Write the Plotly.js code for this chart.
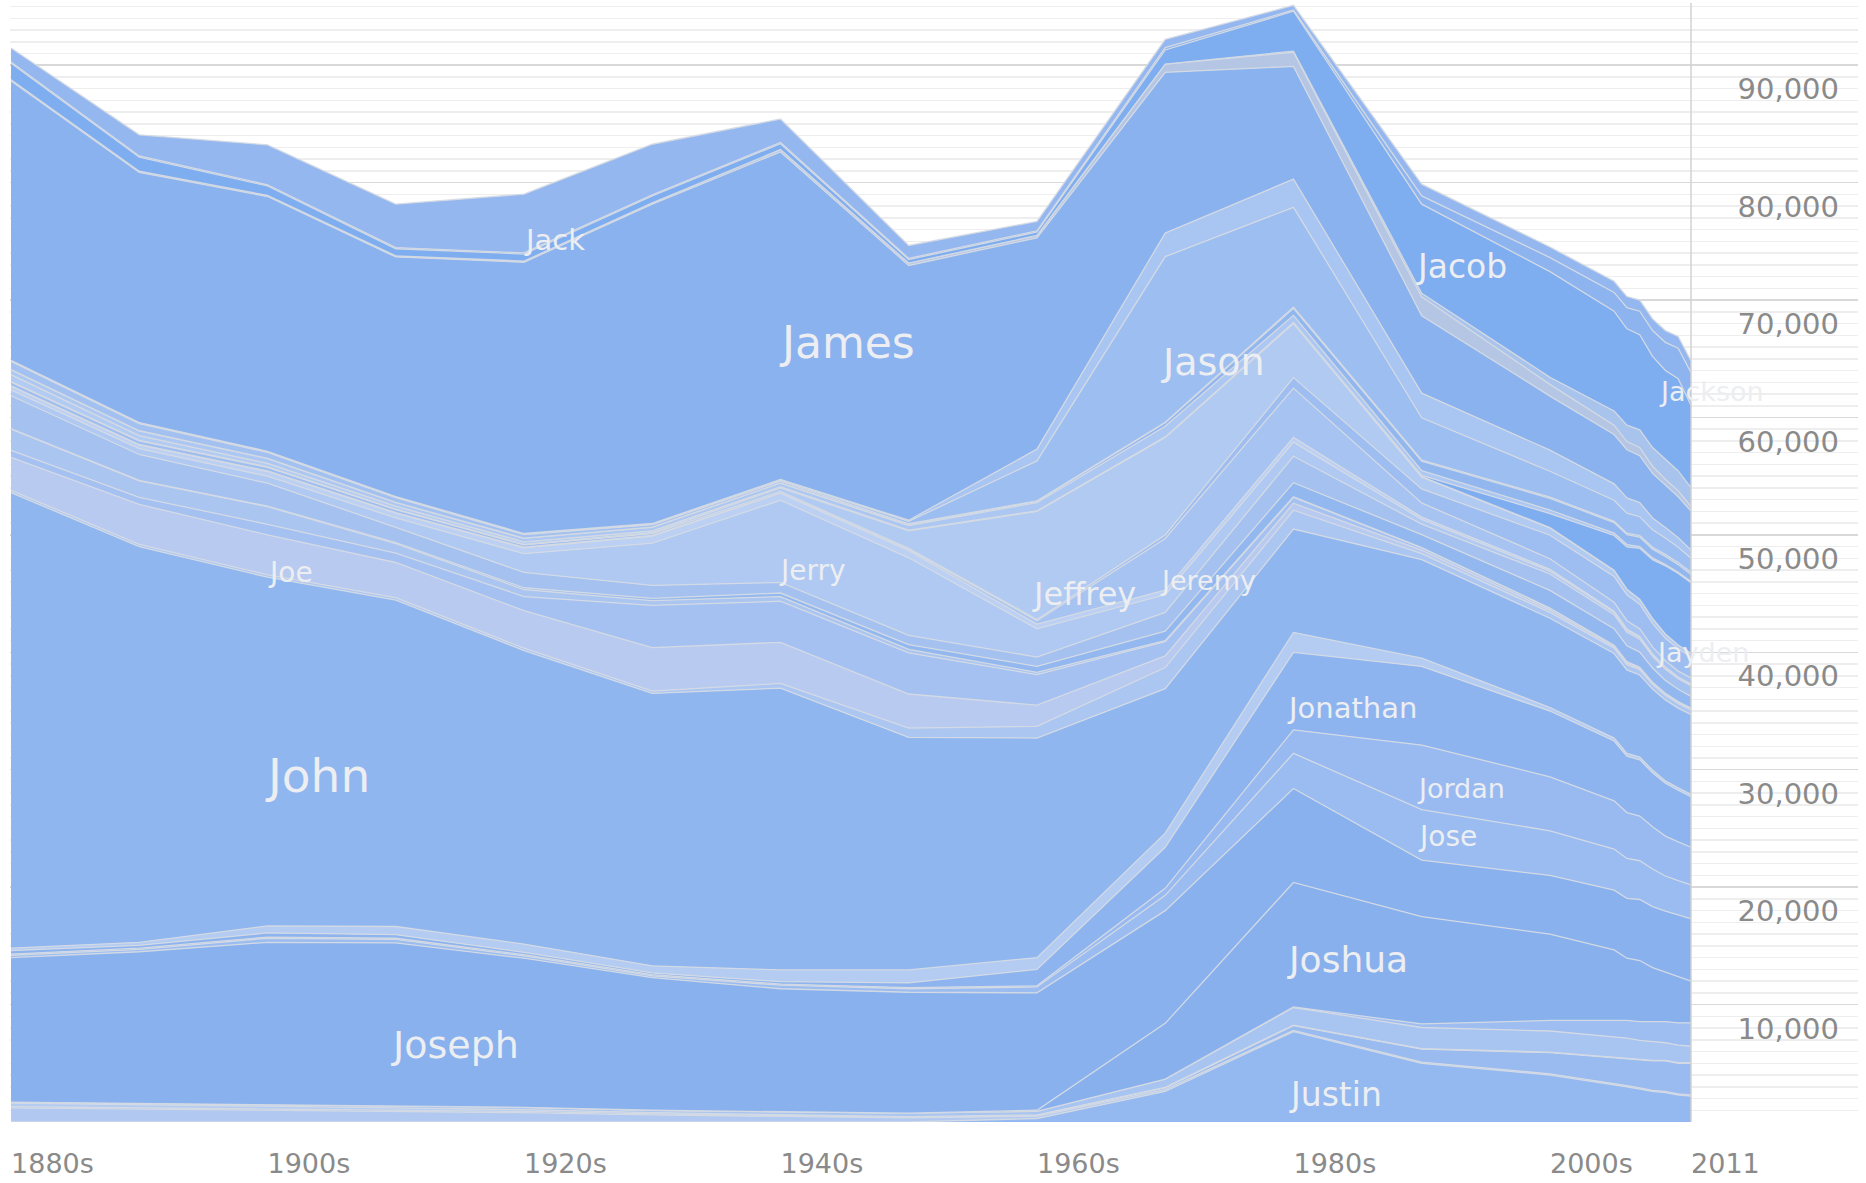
<!DOCTYPE html>
<html>
<head>
<meta charset="utf-8">
<script src="https://cdn.plot.ly/plotly-3.0.1.min.js"></script>
<style>
html,body{margin:0;padding:0;background:#fff;}
#chart{width:1866px;height:1183px;}
</style>
</head>
<body>
<div id="chart"></div>
<script>
// ---------------- DATA ----------------
const years = [1880,1890,1900,1910,1920,1930,1940,1950,1960,1970,1980,1990,2000,2005,2006,2007,2008,2009,2010,2011];

const Jack      = [1200,1800,3400,3700,5000,4300,2000,1100,800,700,400,1000,900,950,950,950,1000,1000,1000,1000];
const Jackson   = [100,100,100,100,100,100,100,100,100,200,100,700,1200,1600,1800,2000,2200,2400,2600,2800];
const Jacob     = [1400,1200,800,600,600,600,500,300,300,1200,3400,7600,9000,8500,8200,8100,7760,7560,7850,7000];
const Jaden     = [0,0,0,0,0,0,0,0,0,0,100,300,600,1200,1400,1500,1600,1700,1700,1600];
const Jake      = [100,100,100,100,100,100,200,200,200,700,1200,1600,1000,800,700,700,600,500,500,400];
const James     = [23800,21300,21700,20400,23100,27200,27900,21700,18000,13700,9600,6600,4600,4200,4100,4000,3800,3600,3500,3300];
const Jared     = [50,50,50,50,50,50,50,100,1000,2000,2400,2100,1800,1400,1300,1200,1000,900,800,700];
const Jason     = [50,50,50,50,50,50,100,200,3400,14100,8500,3600,2200,1800,1700,1600,1500,1400,1300,1200];
const Jasper    = [700,600,500,400,300,200,150,100,50,50,100,100,100,100,120,140,150,170,180,200];
const Javier    = [20,20,20,20,20,20,20,50,100,300,600,800,1000,900,850,800,750,700,650,600];
const Jay       = [400,400,400,300,300,300,300,400,700,900,600,400,300,200,200,150,150,100,100,100];
const Jayden    = [0,0,0,0,0,0,0,0,0,0,50,100,1200,2950,3600,4330,5000,5800,6100,6000];
const Jefferson = [600,400,300,250,200,150,100,50,50,50,50,50,50,40,40,30,30,30,20,20];
const Jeffrey   = [50,50,50,50,50,100,300,1500,9200,8300,4600,1000,600,500,450,400,400,350,300,300];
const Jeremiah  = [300,300,300,250,200,150,100,100,100,300,900,1200,2000,2200,2200,2100,2000,1900,1900,1800];
const Jeremy    = [50,50,50,50,50,50,50,100,300,4400,4200,1200,900,750,700,650,600,550,500,500];
const Jerome    = [300,300,400,400,500,600,600,600,400,400,400,200,150,100,100,80,70,60,50,50];
const Jerry     = [500,500,600,800,1600,3600,7000,6600,2400,1500,1200,400,250,200,180,150,130,120,100,100];
const Jesse     = [2800,2200,1950,1300,1300,1100,900,800,800,1600,2250,900,1400,1200,1150,1100,1000,950,900,900];
const Jesus     = [50,50,50,100,150,200,300,400,500,800,1200,1100,1500,1400,1350,1300,1200,1100,1050,1000];
const Jim       = [1800,1400,1500,800,600,400,400,300,200,100,50,20,20,10,10,0,0,0,0,0];
const Jimmy     = [600,600,900,800,1200,3600,3500,3500,2600,1200,500,200,150,100,100,80,70,60,50,50];
const Joe       = [2800,3400,3400,3000,3200,3700,3500,2900,1800,1000,600,300,200,150,150,120,120,100,100,100];
const Joel      = [200,200,200,200,200,200,400,800,1000,1800,1600,500,500,450,450,450,400,400,400,400];
const John      = [38800,33700,29700,27800,25000,23200,24000,19800,18700,12300,8800,8400,7600,7200,7100,7000,6900,6900,6800,6800];
const Johnny    = [200,250,600,700,700,600,1000,1100,1000,1200,1700,700,300,250,250,220,220,200,200,200];
const Jonathan  = [300,250,350,300,200,150,200,400,1400,3500,6600,6700,5600,5100,4800,4800,4600,4500,4400,4300];
const Jordan    = [100,100,100,100,100,100,100,100,100,600,2000,5500,4600,4100,3900,3800,3600,3400,3300,3200];
const Jose      = [200,200,350,300,200,150,300,300,500,1300,3000,4300,3800,3500,3400,3300,3200,3000,2900,2900];
const Joseph    = [12300,12900,13800,13900,12700,11300,10500,10300,10000,9600,8000,4800,5000,5100,5100,5200,5200,5200,5300,5300];
const Joshua    = [0,0,0,0,0,0,0,0,100,4750,10600,9150,7350,6000,5300,5200,4600,4200,3900,3550];
const Josiah    = [0,0,0,0,0,0,0,0,0,0,50,300,900,1400,1500,1600,1700,1800,1900,2000];
const Juan      = [100,100,150,150,200,200,200,300,300,700,1500,1800,1800,1700,1700,1600,1600,1500,1500,1400];
const Jules     = [300,300,250,200,150,100,100,50,50,50,50,50,50,50,50,50,50,50,50,50];
const Julian    = [100,100,100,100,100,100,50,50,50,150,400,1100,1800,2200,2300,2400,2500,2600,2600,2700];
const Julius    = [1200,1100,1000,900,800,600,500,350,200,150,100,100,100,100,100,100,100,100,100,100];
const Justin    = [0,0,0,0,0,0,0,0,300,2600,7700,5000,4000,3200,3000,2800,2600,2500,2300,2200];

// x-axis tick labels
const xTickYears = [1880,1900,1920,1940,1960,1980,2000,2011];
const xTickText  = ['1880s','1900s','1920s','1940s','1960s','1980s','2000s','2011'];
// y-axis ticks
const yTickVals = [0,10000,20000,30000,40000,50000,60000,70000,80000,90000];
const yTickText = ['','10,000','20,000','30,000','40,000','50,000','60,000','70,000','80,000','90,000'];

// ---------------- BUILD ----------------
const seriesValues = {Justin,Julius,Julian,Jules,Juan,Josiah,Joshua,Joseph,Jose,Jordan,Jonathan,Johnny,John,Joel,Joe,Jimmy,Jim,Jesus,Jesse,Jerry,Jerome,Jeremy,Jeremiah,Jeffrey,Jefferson,Jayden,Jay,Javier,Jasper,Jason,Jared,James,Jake,Jaden,Jacob,Jackson,Jack};
const stackOrder = Object.keys(seriesValues); // bottom to top

const colors = {
  Jack:'#94b7ef', Jackson:'#8db4ee', Jacob:'#7eadf0', Jaden:'#a8c3ec', Jake:'#b5c6e4',
  James:'#8ab2ee', Jared:'#a9c5f1', Jason:'#9dbef0', Jasper:'#a3c1f0', Javier:'#92b7ef',
  Jay:'#acc7f2', Jayden:'#7eadf0', Jefferson:'#b2cbf2', Jeffrey:'#b0caf2', Jeremiah:'#9ebdf0',
  Jeremy:'#a7c3f1', Jerome:'#bbd0f3', Jerry:'#afc9f2', Jesse:'#a4c1f0', Jesus:'#93b8ef',
  Jim:'#abc5f1', Jimmy:'#a4c1f1', Joe:'#b8caf0', Joel:'#acc6f2', John:'#8fb6ef',
  Johnny:'#b4ccf2', Jonathan:'#8db4ef', Jordan:'#98baf0', Jose:'#9abcf0', Joseph:'#89b1ed',
  Joshua:'#88b0ed', Josiah:'#9ebdf0', Juan:'#a8c4f1', Jules:'#b4ccf2', Julian:'#99bbf0',
  Julius:'#b1c9f0', Justin:'#94b8f0'
};

const traces = stackOrder.map(name => ({
  type: 'scatter',
  mode: 'lines',
  name: name,
  x: years,
  y: seriesValues[name],
  stackgroup: 'names',
  fillcolor: colors[name],
  line: {color: 'rgba(212,218,228,0.95)', width: 1.3, shape: 'linear'},
  hoverinfo: 'skip'
}));

const FONT = 'DejaVu Sans, Verdana, sans-serif';
const labelSpecs = [
  ['Jack', 1922.4, 75100, 29],
  ['James', 1945.2, 66400, 44],
  ['Jason', 1973.7, 64700, 38],
  ['Jacob', 1993.1, 72900, 33],
  ['Jackson', 2012.6, 62200, 27],
  ['Joe', 1901.8, 46800, 28],
  ['Jerry', 1942.5, 47000, 28],
  ['Jeffrey', 1963.7, 45000, 32],
  ['Jeremy', 1973.3, 46100, 27],
  ['John', 1903.9, 29500, 47],
  ['Jonathan', 1984.6, 35300, 29],
  ['Jordan', 1993.1, 28400, 27],
  ['Jose', 1992.0, 24300, 28],
  ['Jayden', 2011.9, 40000, 27],
  ['Joseph', 1914.6, 6600, 38],
  ['Joshua', 1984.2, 13800, 36],
  ['Justin', 1983.3, 2300, 33]
];
const annotations = labelSpecs.map(([t, x, y, s]) => ({
  x: x, y: y, xref: 'x', yref: 'y', text: t, showarrow: false,
  xanchor: 'center', yanchor: 'middle',
  font: {family: FONT, size: s, color: '#eceef2'}
}));

const lastYear = years[years.length - 1];

const layout = {
  width: 1866, height: 1183,
  margin: {l: 10, r: 8, t: 3, b: 61},
  paper_bgcolor: '#ffffff',
  plot_bgcolor: '#ffffff',
  showlegend: false,
  font: {family: FONT, color: '#8a8a8a'},
  xaxis: {
    range: [1879.92, 2024.02],
    tickmode: 'array',
    tickvals: xTickYears,
    ticktext: xTickText,
    ticklabelposition: 'outside right',
    ticks: '',
    ticklabelstandoff: 23,
    showgrid: false,
    zeroline: false,
    showline: false,
    tickfont: {family: FONT, size: 27, color: '#8a8a8a'},
    fixedrange: true
  },
  yaxis: {
    range: [0, 95300],
    side: 'right',
    tickmode: 'array',
    tickvals: yTickVals,
    ticktext: yTickText,
    ticklabelposition: 'inside',
    ticks: '',
    ticklabelstandoff: 16,
    ticklabelshift: 24,
    showgrid: true,
    gridcolor: '#d9d9d9',
    gridwidth: 1.5,
    minor: {tickmode: 'linear', tick0: 0, dtick: 1000, showgrid: true, gridcolor: '#eeeeee', gridwidth: 1.5},
    zeroline: false,
    showline: false,
    tickfont: {family: FONT, size: 29, color: '#8a8a8a'},
    fixedrange: true
  },
  shapes: [{
    type: 'line', xref: 'x', yref: 'paper',
    x0: lastYear, x1: lastYear, y0: 0, y1: 1,
    line: {color: '#d2d2d2', width: 1.5},
    layer: 'above'
  }],
  annotations: annotations
};

Plotly.newPlot('chart', traces, layout, {staticPlot: true, displayModeBar: false});
</script>
</body>
</html>
